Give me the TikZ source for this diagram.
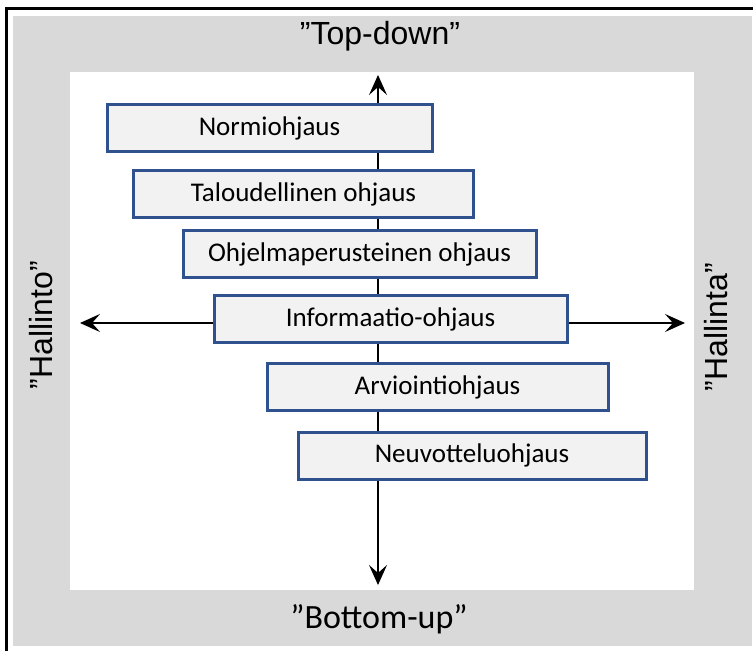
\documentclass[tikz,border=0pt]{standalone}
\usepackage{fontspec}
\setmainfont{Carlito}
\newfontfamily\arialfont{Liberation Sans}
\usetikzlibrary{arrows.meta}
\definecolor{boxblue}{RGB}{47,82,143}
\definecolor{boxfill}{RGB}{242,242,242}
\definecolor{band}{RGB}{217,217,217}

\begin{document}
\begin{tikzpicture}[x=0.5pt,y=-0.5pt,
  ohjaus/.style={draw=boxblue,fill=boxfill,line width=1.5pt,minimum height=23.5pt,
    inner sep=0pt,font=\fontsize{13.5}{16}\selectfont},
  tip/.style={-{Stealth[length=10pt,width=9pt,inset=4pt]}},
  side/.style={font=\arialfont\fontsize{16}{19}\selectfont}]
  \useasboundingbox (0,0) rectangle (753,651);

  % frame, gray band, white field
  \fill [band] (13,16) rectangle (752,646);
  \fill [white] (70,72) rectangle (694,590);
  \draw [line width=1.5pt] (6,651) -- (6,8.5) -- (753,8.5);

  \node [side] (td) at (380,36) {”Top-down”};
  \node [font=\fontsize{17}{20}\selectfont] (bu) at (379,619) {”Bottom-up”};
  \node [side,rotate=90] (hto) at (41,325) {”Hallinto”};
  \node [side,rotate=90] (hta) at (716,327) {”Hallinta”};

  \coordinate (top) at (378,75);
  \coordinate (bottom) at (378,585);
  \coordinate (left) at (80,323);
  \coordinate (right) at (685,323);

  \draw [{Stealth[length=10pt,width=9pt,inset=4pt]}-{Stealth[length=10pt,width=9pt,inset=4pt]},line width=0.6pt] (bottom) -- (top);

  \node [ohjaus,minimum width=162.5pt] (n1) at (269.5,128) {Normiohjaus};
  \node [ohjaus,minimum width=170pt] (n2) at (303.5,194) {Taloudellinen ohjaus};
  \node [ohjaus,minimum width=176.5pt] (n3) at (359.5,254.5) {Ohjelmaperusteinen ohjaus};
  \node [ohjaus,minimum width=176.5pt] (n4) at (390.5,319.5) {Informaatio-ohjaus};
  \node [ohjaus,minimum width=170.5pt] (n5) at (437.5,387) {Arviointiohjaus};
  \node [ohjaus,minimum width=174pt] (n6) at (472,455.5) {Neuvotteluohjaus};

  \draw [tip,line width=1.2pt] (n4.west |- left) -- (left);
  \draw [tip,line width=0.6pt] (n4.east |- right) -- (right);
\end{tikzpicture}
\end{document}
